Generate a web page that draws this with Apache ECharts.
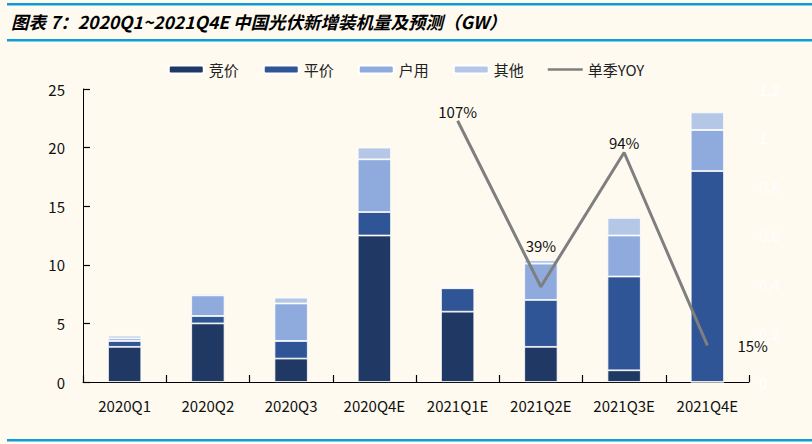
<!DOCTYPE html>
<html>
<head>
<meta charset="utf-8">
<script src="https://cdn.jsdelivr.net/npm/echarts@6/dist/echarts.min.js"></script>
<style>html,body{margin:0;padding:0;background:#FEFAF0;}#c{width:812px;height:444px;}</style>
</head>
<body>
<div id="c"></div>
<script>
var categories = ['2020Q1','2020Q2','2020Q3','2020Q4E','2021Q1E','2021Q2E','2021Q3E','2021Q4E'];
var bidding = [3, 5, 2, 12.5, 6, 3, 1, 0];
var parity = [0.5, 0.63, 1.5, 2, 2, 4, 8, 18];
var household = [0.22, 1.76, 3.2, 4.5, 0.1, 3.1, 3.5, 3.5];
var others = [0.23, 0.14, 0.5, 1, 0.1, 0.3, 1.5, 1.5];
var yoy = [null, null, null, null, 1.07, 0.39, 0.94, 0.15];
var leftTicks = [0, 5, 10, 15, 20, 25];
var rightTicks = [0, 0.2, 0.4, 0.6, 0.8, 1, 1.2];

var font = "'Noto Sans CJK SC', 'Noto Sans', sans-serif";
var chart = echarts.init(document.getElementById('c'), null, { renderer: 'svg' });
function barSeries(name, data, color) {
  return {
    name: name, type: 'bar', stack: 'total', data: data, barWidth: '40%',
    itemStyle: { color: color, borderColor: '#FFFFFF', borderWidth: 0.8 }
  };
}
var labelPos = [null, null, null, null,
  { position: 'top', distance: 2 },
  { position: 'top', distance: 34 },
  { position: 'top', distance: 2 },
  { position: 'right', distance: 30 }];
var yoyData = yoy.map(function (v, i) {
  if (v === null) return null;
  return { value: v, label: Object.assign({ show: true }, labelPos[i]) };
});
var tickStyle = { show: true, inside: true, length: 7, lineStyle: { color: '#000000', width: 1.2, opacity: 1, type: 'solid' } };
chart.setOption({
  backgroundColor: '#FEFAF0',
  animation: false,
  title: {
    text: '图表 7：2020Q1~2021Q4E 中国光伏新增装机量及预测（GW）',
    left: 6, top: 8,
    textStyle: { fontFamily: font, fontSize: 17.5, fontWeight: 'bold', fontStyle: 'italic', color: '#000000' }
  },
  graphic: [
    { type: 'rect', shape: { x: 7, y: 3, width: 805, height: 2.5 }, style: { fill: '#0E9BD8' } },
    { type: 'rect', shape: { x: 7, y: 39, width: 805, height: 2.5 }, style: { fill: '#0E9BD8' } },
    { type: 'rect', shape: { x: 7, y: 439, width: 805, height: 2.5 }, style: { fill: '#0E9BD8' } }
  ],
  legend: {
    top: 57, left: 'center', itemWidth: 35, itemHeight: 8, itemGap: 24,
    textStyle: { fontFamily: font, fontSize: 15, color: '#222' },
    data: ['竞价', '平价', '户用', '其他',
      { name: '单季YOY', icon: 'path://M0,0 L35,0 L35,2.5 L0,2.5 Z', itemStyle: { color: '#7F7F7F' } }]
  },
  grid: { left: 83, right: 63, top: 89, bottom: 62 },
  xAxis: {
    type: 'category', data: categories,
    axisLine: { show: true, lineStyle: { color: '#000', width: 1 } },
    axisTick: tickStyle,
    axisLabel: { fontFamily: font, fontSize: 15, color: '#111', margin: 16 }
  },
  yAxis: [{
    type: 'value', min: leftTicks[0], max: leftTicks[leftTicks.length - 1], interval: 5,
    axisLine: { show: true, lineStyle: { color: '#000', width: 1 } },
    axisTick: tickStyle,
    splitLine: { show: false },
    axisLabel: { fontFamily: font, fontSize: 15, color: '#111', margin: 18 }
  }, {
    type: 'value', min: rightTicks[0], max: rightTicks[rightTicks.length - 1], interval: 0.2,
    position: 'right',
    axisLine: { show: false }, axisTick: { show: false }, splitLine: { show: false },
    axisLabel: { fontFamily: font, fontSize: 15, color: '#FFFFFF', margin: 10 }
  }],
  series: [
    barSeries('竞价', bidding, '#203864'),
    barSeries('平价', parity, '#2F5597'),
    barSeries('户用', household, '#8FAADC'),
    barSeries('其他', others, '#B4C7E7'),
    {
      name: '单季YOY', type: 'line', yAxisIndex: 1, data: yoyData,
      showSymbol: true, symbol: 'circle', symbolSize: 0.1, connectNulls: false,
      lineStyle: { color: '#7F7F7F', width: 3 },
      itemStyle: { color: '#7F7F7F' },
      label: {
        show: true, fontFamily: font, fontSize: 15, color: '#111',
        formatter: function (p) { return Math.round(p.value * 100) + '%'; }
      }
    }
  ]
});
</script>
</body>
</html>
